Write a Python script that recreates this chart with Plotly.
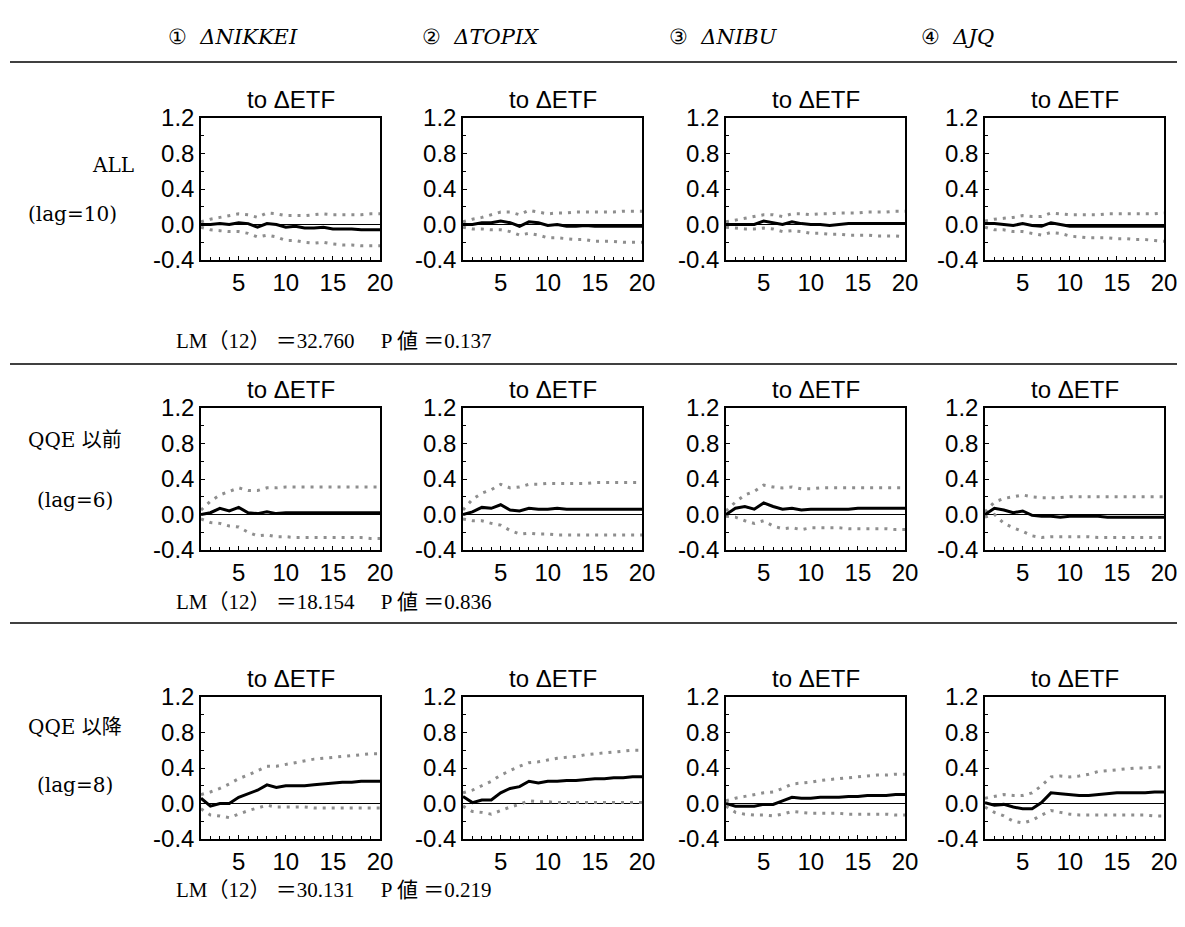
import plotly.graph_objects as go

# page body has an 8px margin and the visible width is ~1177px; keep the figure inside
OFF = 8
W, H = 1169, 905

periods = list(range(1, 21))
x_ticks = [5, 10, 15, 20]
y_ticks = [-0.4, 0.0, 0.4, 0.8, 1.2]
y_tick_labels = ["-0.4", "0.0", "0.4", "0.8", "1.2"]

col_headers = ["ΔNIKKEI", "ΔTOPIX", "ΔNIBU", "ΔJQ"]
col_marks = ["①", "②", "③", "④"]
row_labels = ["ALL", "QQE 以前", "QQE 以降"]
row_lags = ["(lag=10)", "(lag=6)", "(lag=8)"]
lm_texts = ["LM（12） ＝32.760　 P 値 ＝0.137",
            "LM（12） ＝18.154　 P 値 ＝0.836",
            "LM（12） ＝30.131　 P 値 ＝0.219"]
panel_title = "to ΔETF"

# ---- ALL (lag=10)
all_nikkei_irf = [0.0, 0.0, 0.01, 0.0, 0.02, 0.01, -0.03, 0.01, 0.0, -0.03, -0.02, -0.04, -0.04, -0.03, -0.05, -0.05, -0.05, -0.06, -0.06, -0.06]
all_nikkei_up = [0.03, 0.06, 0.08, 0.10, 0.12, 0.11, 0.08, 0.13, 0.12, 0.10, 0.10, 0.10, 0.11, 0.12, 0.11, 0.11, 0.11, 0.11, 0.12, 0.12]
all_nikkei_lo = [-0.03, -0.06, -0.07, -0.08, -0.08, -0.10, -0.14, -0.12, -0.14, -0.18, -0.18, -0.20, -0.21, -0.20, -0.22, -0.23, -0.23, -0.24, -0.24, -0.24]

all_topix_irf = [0.0, 0.0, 0.02, 0.02, 0.04, 0.02, -0.02, 0.03, 0.02, -0.01, 0.0, -0.02, -0.02, -0.01, -0.02, -0.02, -0.02, -0.02, -0.02, -0.02]
all_topix_up = [0.03, 0.06, 0.08, 0.11, 0.14, 0.14, 0.11, 0.16, 0.14, 0.12, 0.13, 0.13, 0.14, 0.14, 0.14, 0.14, 0.14, 0.15, 0.15, 0.15]
all_topix_lo = [-0.03, -0.05, -0.05, -0.06, -0.06, -0.08, -0.12, -0.10, -0.12, -0.15, -0.15, -0.16, -0.17, -0.17, -0.19, -0.19, -0.19, -0.20, -0.20, -0.20]

all_nibu_irf = [0.0, 0.0, 0.0, 0.0, 0.04, 0.02, 0.0, 0.03, 0.01, 0.0, 0.0, -0.01, 0.0, 0.01, 0.01, 0.01, 0.01, 0.01, 0.01, 0.01]
all_nibu_up = [0.03, 0.05, 0.07, 0.09, 0.11, 0.11, 0.09, 0.12, 0.12, 0.11, 0.12, 0.12, 0.13, 0.13, 0.13, 0.14, 0.14, 0.14, 0.15, 0.15]
all_nibu_lo = [-0.03, -0.04, -0.05, -0.05, -0.04, -0.05, -0.08, -0.07, -0.08, -0.10, -0.10, -0.11, -0.11, -0.12, -0.12, -0.12, -0.13, -0.13, -0.13, -0.14]

all_jq_irf = [0.01, 0.01, 0.0, -0.01, 0.01, -0.01, -0.02, 0.02, 0.0, -0.02, -0.02, -0.02, -0.02, -0.02, -0.02, -0.02, -0.02, -0.02, -0.02, -0.02]
all_jq_up = [0.04, 0.06, 0.07, 0.08, 0.10, 0.09, 0.09, 0.13, 0.12, 0.11, 0.11, 0.11, 0.11, 0.12, 0.12, 0.12, 0.12, 0.12, 0.12, 0.13]
all_jq_lo = [-0.03, -0.06, -0.06, -0.08, -0.08, -0.10, -0.12, -0.09, -0.10, -0.13, -0.14, -0.15, -0.15, -0.15, -0.16, -0.16, -0.17, -0.17, -0.18, -0.19]

# ---- QQE 以前 (lag=6)
pre_nikkei_irf = [0.0, 0.02, 0.07, 0.04, 0.08, 0.02, 0.01, 0.03, 0.01, 0.02, 0.02, 0.02, 0.02, 0.02, 0.02, 0.02, 0.02, 0.02, 0.02, 0.02]
pre_nikkei_up = [0.05, 0.15, 0.22, 0.26, 0.30, 0.27, 0.27, 0.30, 0.30, 0.31, 0.31, 0.31, 0.31, 0.31, 0.31, 0.31, 0.31, 0.31, 0.31, 0.31]
pre_nikkei_lo = [-0.05, -0.09, -0.10, -0.13, -0.14, -0.20, -0.24, -0.23, -0.25, -0.25, -0.26, -0.26, -0.26, -0.26, -0.26, -0.26, -0.26, -0.26, -0.27, -0.27]

pre_topix_irf = [0.0, 0.03, 0.08, 0.07, 0.11, 0.05, 0.04, 0.07, 0.06, 0.06, 0.07, 0.06, 0.06, 0.06, 0.06, 0.06, 0.06, 0.06, 0.06, 0.06]
pre_topix_up = [0.05, 0.17, 0.24, 0.28, 0.34, 0.30, 0.31, 0.34, 0.34, 0.35, 0.35, 0.35, 0.35, 0.35, 0.36, 0.36, 0.36, 0.36, 0.36, 0.36]
pre_topix_lo = [-0.05, -0.07, -0.07, -0.10, -0.12, -0.18, -0.22, -0.21, -0.22, -0.22, -0.23, -0.23, -0.23, -0.23, -0.23, -0.23, -0.23, -0.23, -0.23, -0.23]

pre_nibu_irf = [0.0, 0.07, 0.09, 0.06, 0.13, 0.09, 0.06, 0.07, 0.05, 0.06, 0.06, 0.06, 0.06, 0.06, 0.07, 0.07, 0.07, 0.07, 0.07, 0.07]
pre_nibu_up = [0.04, 0.14, 0.22, 0.26, 0.33, 0.31, 0.30, 0.31, 0.29, 0.29, 0.30, 0.30, 0.30, 0.30, 0.30, 0.30, 0.30, 0.30, 0.30, 0.30]
pre_nibu_lo = [-0.02, -0.03, -0.07, -0.10, -0.07, -0.13, -0.16, -0.15, -0.17, -0.15, -0.15, -0.15, -0.15, -0.16, -0.16, -0.16, -0.16, -0.16, -0.17, -0.17]

pre_jq_irf = [0.0, 0.07, 0.05, 0.02, 0.04, -0.01, -0.02, -0.02, -0.03, -0.02, -0.02, -0.02, -0.02, -0.03, -0.03, -0.03, -0.03, -0.03, -0.03, -0.03]
pre_jq_up = [0.03, 0.14, 0.18, 0.20, 0.22, 0.20, 0.19, 0.19, 0.19, 0.20, 0.20, 0.20, 0.20, 0.20, 0.20, 0.20, 0.20, 0.20, 0.20, 0.20]
pre_jq_lo = [-0.03, 0.0, -0.10, -0.15, -0.19, -0.24, -0.26, -0.25, -0.25, -0.25, -0.25, -0.25, -0.26, -0.26, -0.26, -0.26, -0.26, -0.26, -0.26, -0.26]

# ---- QQE 以降 (lag=8)
post_nikkei_irf = [0.06, -0.03, 0.0, 0.0, 0.07, 0.11, 0.15, 0.21, 0.18, 0.20, 0.20, 0.20, 0.21, 0.22, 0.23, 0.24, 0.24, 0.25, 0.25, 0.25]
post_nikkei_up = [0.10, 0.13, 0.17, 0.22, 0.28, 0.32, 0.37, 0.42, 0.42, 0.44, 0.46, 0.48, 0.50, 0.51, 0.52, 0.53, 0.54, 0.55, 0.56, 0.56]
post_nikkei_lo = [-0.06, -0.13, -0.14, -0.16, -0.12, -0.08, -0.05, -0.02, -0.04, -0.04, -0.04, -0.04, -0.05, -0.05, -0.05, -0.05, -0.05, -0.05, -0.05, -0.05]

post_topix_irf = [0.08, 0.01, 0.04, 0.04, 0.12, 0.17, 0.19, 0.25, 0.23, 0.25, 0.25, 0.26, 0.26, 0.27, 0.28, 0.28, 0.29, 0.29, 0.30, 0.30]
post_topix_up = [0.12, 0.15, 0.20, 0.25, 0.32, 0.37, 0.42, 0.46, 0.47, 0.49, 0.51, 0.52, 0.53, 0.55, 0.56, 0.57, 0.58, 0.59, 0.60, 0.60]
post_topix_lo = [-0.03, -0.09, -0.10, -0.12, -0.08, -0.04, -0.01, 0.03, 0.02, 0.02, 0.01, 0.01, 0.01, 0.01, 0.01, 0.01, 0.01, 0.01, 0.01, 0.01]

post_nibu_irf = [0.0, -0.03, -0.03, -0.03, -0.01, -0.01, 0.03, 0.07, 0.06, 0.06, 0.07, 0.07, 0.07, 0.08, 0.08, 0.09, 0.09, 0.09, 0.10, 0.10]
post_nibu_up = [0.03, 0.06, 0.08, 0.10, 0.12, 0.13, 0.17, 0.22, 0.23, 0.24, 0.26, 0.27, 0.28, 0.29, 0.30, 0.31, 0.32, 0.32, 0.33, 0.33]
post_nibu_lo = [-0.03, -0.10, -0.12, -0.13, -0.13, -0.14, -0.12, -0.09, -0.10, -0.11, -0.11, -0.11, -0.11, -0.12, -0.12, -0.12, -0.12, -0.12, -0.13, -0.13]

post_jq_irf = [0.01, -0.02, -0.01, -0.04, -0.06, -0.06, 0.01, 0.12, 0.11, 0.10, 0.09, 0.09, 0.10, 0.11, 0.12, 0.12, 0.12, 0.12, 0.13, 0.13]
post_jq_up = [0.06, 0.08, 0.10, 0.09, 0.09, 0.12, 0.20, 0.30, 0.31, 0.30, 0.31, 0.33, 0.36, 0.37, 0.38, 0.39, 0.40, 0.40, 0.41, 0.41]
post_jq_lo = [-0.04, -0.10, -0.14, -0.20, -0.22, -0.19, -0.13, -0.08, -0.10, -0.12, -0.13, -0.13, -0.13, -0.13, -0.13, -0.13, -0.13, -0.13, -0.14, -0.14]

panels = [
    [(all_nikkei_irf, all_nikkei_up, all_nikkei_lo), (all_topix_irf, all_topix_up, all_topix_lo),
     (all_nibu_irf, all_nibu_up, all_nibu_lo), (all_jq_irf, all_jq_up, all_jq_lo)],
    [(pre_nikkei_irf, pre_nikkei_up, pre_nikkei_lo), (pre_topix_irf, pre_topix_up, pre_topix_lo),
     (pre_nibu_irf, pre_nibu_up, pre_nibu_lo), (pre_jq_irf, pre_jq_up, pre_jq_lo)],
    [(post_nikkei_irf, post_nikkei_up, post_nikkei_lo), (post_topix_irf, post_topix_up, post_topix_lo),
     (post_nibu_irf, post_nibu_up, post_nibu_lo), (post_jq_irf, post_jq_up, post_jq_lo)],
]

# ---- layout geometry (screen pixels of the target picture)
col_left = [201, 463, 726, 985]
plot_w = 179
row_top = [118, 408, 697]
plot_h = 142
lm_y = [341, 602, 890]
sep_y = [62, 364, 623]
label_y = [(165, 214), (440, 500), (727, 785)]
label_x = [(113, 72), (75, 75), (75, 75)]
head_x = [166, 420, 667, 919]


def px_x(p):
    return (p - OFF) / W


def px_y(p):
    return 1 - (p - OFF) / H


fig = go.Figure()
layout = dict(width=W, height=H, margin=dict(l=0, r=0, t=0, b=0, pad=0, autoexpand=False),
              paper_bgcolor="white", plot_bgcolor="white", showlegend=False,
              hovermode="closest")

sans = "Liberation Sans, Arial, sans-serif"
serif = "Liberation Serif, Times New Roman, serif"
annotations = []
shapes = []

idx = 0
for r in range(3):
    for c in range(4):
        idx += 1
        xa = "x" if idx == 1 else f"x{idx}"
        ya = "y" if idx == 1 else f"y{idx}"
        irf, up, lo = panels[r][c]
        band_line = dict(color="#8e8e8e", width=3, dash="3px,6px")
        fig.add_trace(go.Scatter(x=periods, y=up, mode="lines", xaxis=xa, yaxis=ya, line=band_line))
        fig.add_trace(go.Scatter(x=periods, y=lo, mode="lines", xaxis=xa, yaxis=ya, line=band_line))
        fig.add_trace(go.Scatter(x=periods, y=irf, mode="lines", xaxis=xa, yaxis=ya,
                                 line=dict(color="black", width=3)))
        x0 = col_left[c]
        y0 = row_top[r]
        xkey = "xaxis" if idx == 1 else f"xaxis{idx}"
        ykey = "yaxis" if idx == 1 else f"yaxis{idx}"
        layout[xkey] = dict(domain=[px_x(x0), px_x(x0 + plot_w)], anchor=ya, automargin=False,
                            range=[1, 20], tickvals=x_ticks, ticks="inside", ticklen=4,
                            tickcolor="black", showgrid=False, zeroline=False,
                            showline=True, mirror=True, linecolor="black", linewidth=1.5,
                            ticklabeloverflow="allow",
                            tickfont=dict(family=sans, size=24, color="black"),
                            minor=dict(dtick=1, tick0=1, ticks="inside", ticklen=3, tickcolor="black"))
        layout[ykey] = dict(domain=[px_y(y0 + plot_h), px_y(y0)], anchor=xa, automargin=False,
                            range=[-0.4, 1.2], tickvals=y_ticks, ticktext=y_tick_labels,
                            ticks="inside", ticklen=4, tickcolor="black",
                            showgrid=False, zeroline=True, zerolinecolor="black", zerolinewidth=1,
                            showline=True, mirror=True, linecolor="black", linewidth=1.5,
                            ticklabeloverflow="allow",
                            tickfont=dict(family=sans, size=24, color="black"),
                            minor=dict(dtick=0.2, tick0=-0.4, ticks="inside", ticklen=3, tickcolor="black"))
        annotations.append(dict(text=panel_title, xref="paper", yref="paper",
                                x=px_x(x0 + plot_w / 2), y=px_y(y0 - 3), xanchor="center", yanchor="bottom",
                                showarrow=False, font=dict(family=sans, size=24, color="black")))

# column headers
for c in range(4):
    annotations.append(dict(text=col_marks[c] + "  <i>" + col_headers[c] + "</i>", xref="paper", yref="paper",
                            x=px_x(head_x[c]), y=px_y(37), xanchor="left", yanchor="middle",
                            showarrow=False, font=dict(family="DejaVu Serif, serif", size=21, color="black")))

# row labels and LM statistics
for r in range(3):
    annotations.append(dict(text=row_labels[r], xref="paper", yref="paper",
                            x=px_x(label_x[r][0]), y=px_y(label_y[r][0]), xanchor="center", yanchor="middle",
                            showarrow=False,
                            font=dict(family="DejaVu Serif, Noto Sans CJK JP, serif", size=20, color="black")))
    annotations.append(dict(text=row_lags[r], xref="paper", yref="paper",
                            x=px_x(label_x[r][1]), y=px_y(label_y[r][1]), xanchor="center", yanchor="middle",
                            showarrow=False, font=dict(family="DejaVu Serif, serif", size=20, color="black")))
    annotations.append(dict(text=lm_texts[r], xref="paper", yref="paper",
                            x=px_x(174), y=px_y(lm_y[r]), xanchor="left", yanchor="middle",
                            showarrow=False, font=dict(family=serif + ", Noto Sans CJK JP", size=21, color="black")))

for yy in sep_y:
    shapes.append(dict(type="line", xref="paper", yref="paper", x0=px_x(10), x1=1,
                       y0=px_y(yy), y1=px_y(yy), line=dict(color="black", width=1.5)))

layout["annotations"] = annotations
layout["shapes"] = shapes
fig.update_layout(**layout)
fig.write_html("out.html")
